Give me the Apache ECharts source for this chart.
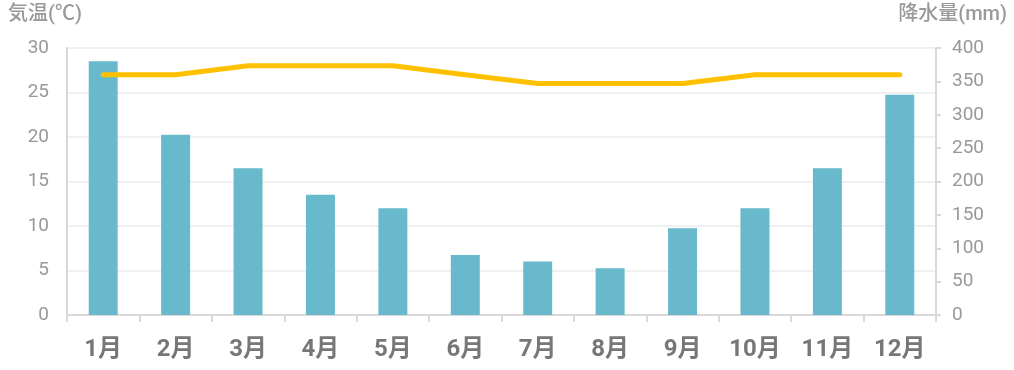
<!DOCTYPE html>
<html><head><meta charset="utf-8">
<script src="https://cdn.jsdelivr.net/npm/echarts@6/dist/echarts.min.js"></script>
<style>html,body{margin:0;padding:0;background:#fff}#c{width:1014px;height:370px}</style>
</head><body><div id="c"></div>
<script>
const months = ['1月','2月','3月','4月','5月','6月','7月','8月','9月','10月','11月','12月'];
const temperature = [27,27,28,28,28,27,26,26,26,27,27,27];
const precipitation = [380,270,220,180,160,90,80,70,130,160,220,330];
const tempTicks = {min:0, max:30, interval:5};
const rainTicks = {min:0, max:400, interval:50};

const chart = echarts.init(document.getElementById('c'), null, {renderer:'canvas'});
const font = 'Roboto, "Noto Sans CJK JP", sans-serif';
chart.setOption({
  animation:false,
  textStyle:{fontFamily:font},
  grid:{left:67,right:78,top:48,bottom:55,containLabel:false},
  graphic:[
    {type:'text',left:8,top:5,style:{text:'気温(℃)',fill:'#999',font:'500 20px '+font}},
    {type:'text',right:7,top:5,style:{text:'降水量(mm)',fill:'#999',font:'500 20px '+font}}
  ],
  xAxis:{
    type:'category',data:months,boundaryGap:true,
    axisLine:{lineStyle:{color:'#d9d9d9',width:2}},
    axisTick:{show:true,length:7,lineStyle:{color:'#d9d9d9',width:2}},
    axisLabel:{color:'#777',fontSize:24,fontWeight:'bold',margin:23,fontFamily:font}
  },
  yAxis:[
    {type:'value',min:tempTicks.min,max:tempTicks.max,interval:tempTicks.interval,position:'left',
     axisLine:{show:true,lineStyle:{color:'#d9d9d9',width:2}},
     axisTick:{show:false},
     splitLine:{show:true,lineStyle:{color:'#f0f0f0',width:2}},
     axisLabel:{color:'#999',fontSize:19,margin:18,fontFamily:font}},
    {type:'value',min:rainTicks.min,max:rainTicks.max,interval:rainTicks.interval,position:'right',
     axisLine:{show:true,lineStyle:{color:'#d9d9d9',width:2}},
     axisTick:{show:true,length:5,lineStyle:{color:'#d9d9d9',width:2}},
     splitLine:{show:false},
     axisLabel:{color:'#999',fontSize:19,margin:16,fontFamily:font}}
  ],
  series:[
    {type:'bar',yAxisIndex:1,data:precipitation,barWidth:'40%',itemStyle:{color:'#67B9CB'}},
    {type:'line',yAxisIndex:0,data:temperature,showSymbol:false,symbol:'none',
     lineStyle:{color:'#FFC000',width:5,cap:'round',join:'round'},z:5}
  ]
});
</script></body></html>
